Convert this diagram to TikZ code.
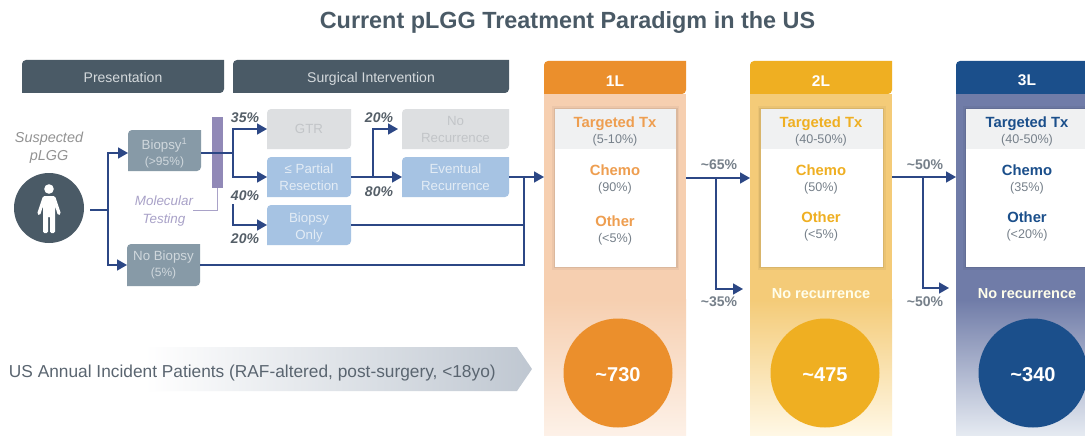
\documentclass[tikz,border=0pt]{standalone}
\usepackage{fontspec}
\setmainfont{Liberation Sans}
\usetikzlibrary{arrows.meta}
\definecolor{slate}{HTML}{4A5A66}
\definecolor{hdrtxt}{HTML}{D5DADD}
\definecolor{bgrey}{HTML}{879AA7}
\definecolor{bgreytxt}{HTML}{D0D8DD}
\definecolor{lgrey}{HTML}{DDDFE1}
\definecolor{lgreytxt}{HTML}{C2C5C8}
\definecolor{lblue}{HTML}{A6C3E3}
\definecolor{lbluetxt}{HTML}{E3ECF5}
\definecolor{purp}{HTML}{9189B7}
\definecolor{purptxt}{HTML}{A9A2C8}
\definecolor{navy}{HTML}{2C4785}
\definecolor{pct}{HTML}{555F68}
\definecolor{subt}{HTML}{76808A}
\definecolor{orA}{HTML}{EB8F2C}
\definecolor{orT}{HTML}{EE9E50}
\definecolor{orB}{HTML}{F6CFB0}
\definecolor{orC}{HTML}{FDF1E8}
\definecolor{yeA}{HTML}{EFAF22}
\definecolor{yeB}{HTML}{F4CB78}
\definecolor{yeC}{HTML}{FFF8E6}
\definecolor{blA}{HTML}{1B4F8B}
\definecolor{blB}{HTML}{707CA8}
\definecolor{blC}{HTML}{E6EBF2}
\definecolor{boxgrey}{HTML}{F0F1F2}
\definecolor{bannerc}{HTML}{BFC7D1}
\definecolor{bannert}{HTML}{5A6570}
\tikzset{
  base/.style={inner sep=0pt,outer sep=0pt,align=center},
  conn/.style={draw=navy,line width=1.7pt},
  arr/.style={conn,-{Triangle[length=10pt,width=11pt]}},
  molec/.style={draw=purptxt,line width=1pt},
  pctlab/.style={base,font=\fontsize{14}{16}\selectfont\bfseries\itshape,text=pct},
  tilde/.style={base,font=\fontsize{14}{16}\selectfont\bfseries,text=subt},
  boxlab/.style={base,font=\fontsize{13.3}{17}\selectfont},
  txhead/.style={base,font=\fontsize{14.8}{16}\selectfont\bfseries},
  txsub/.style={base,font=\fontsize{12.6}{14}\selectfont,text=subt},
  norec/.style={base,font=\fontsize{14.5}{16}\selectfont\bfseries,text=white!92!yellow},
  circlab/.style={base,font=\fontsize{20}{22}\selectfont\bfseries,text=white},
}
\newcommand{\subpct}[1]{{\fontsize{12}{14}\selectfont #1}}
% fill only: x0 y0 x1 y1 colour
\newcommand{\diagfill}[5]{%
  \fill[#5] (#1,#4) [rounded corners=4pt] -- (#1,#2) [sharp corners] -- (#3,#2) [rounded corners=4pt] -- (#3,#4) [sharp corners] -- cycle;
}
% name x0 y0 x1 y1 fill style-text text
\newcommand{\diagbox}[8]{%
  \diagfill{#2}{#3}{#4}{#5}{#6}
  \node[base,minimum width={(#4-#2)*1pt},minimum height={(#5-#3)*1pt},boxlab,text=#7] (#1) at ({(#2+#4)/2},{(#3+#5)/2}) {#8};
}
% column: name x0 x1 colA colB colC label
\newcommand{\column}[7]{%
  \fill[#5] (#2,94) rectangle (#3,300);
  \shade[top color=#5,bottom color=#6] (#2,299.5) rectangle (#3,436);
  \diagbox{#1}{#2}{61}{#3}{94}{#4}{white}{\fontsize{15.5}{17}\selectfont\bfseries\rule{0pt}{17pt}#7}
}
% white card x0 x1
\newcommand{\card}[2]{%
  \fill[black,opacity=.04] (#1-3,106) rectangle (#2+3,269.5);
  \fill[black,opacity=.07] (#1-1.5,107.5) rectangle (#2+1.5,268);
  \fill[white] (#1,109) rectangle (#2,266.5);
  \fill[boxgrey] (#1,109) rectangle (#2,149);
}
\begin{document}
\begin{tikzpicture}[x=1pt,y=-1pt]
\useasboundingbox (0,0) rectangle (1085,436);
\clip (0,0) rectangle (1085,436);
\fill[white] (0,0) rectangle (1085,436);

\node[base,font=\fontsize{23.4}{25}\selectfont\bfseries,text=slate] (title) at (567.5,23) {Current pLGG Treatment Paradigm in the US};

% headers
\diagbox{hpres}{22}{60}{224}{93}{slate}{hdrtxt}{\fontsize{14}{16}\selectfont\rule{0pt}{14.5pt}\vphantom{g}Presentation}
\diagbox{hsurg}{233}{60}{509}{93}{slate}{hdrtxt}{\fontsize{14}{16}\selectfont\rule{0pt}{14.5pt}Surgical Intervention}

% patient
\node[base,font=\fontsize{14.4}{18}\selectfont\itshape,text=gray!85] (susp) at (49,148) {Suspected\\pLGG};
\node[base,circle,fill=slate,minimum size=70pt] (person) at (49,208) {};
\fill[white] (49,189) circle (4.8);
\fill[white,rounded corners=1.5pt] (43,196) -- (55,196) -- (61,214) -- (58,215.5) -- (55,206) -- (55,233) -- (50,233) -- (50,216) -- (48,216) -- (48,233) -- (43,233) -- (43,206) -- (40,215.5) -- (37,214) -- cycle;

% boxes
\diagfill{128}{130}{201}{171}{bgrey}
\node[base,minimum width=73pt,minimum height=36pt,boxlab,text=bgreytxt] (biopsy) at (164.5,153) {Biopsy\textsuperscript{1}\\[-1pt]\subpct{(>95\%)}};
\diagbox{nobiopsy}{127}{244}{200}{286}{bgrey}{bgreytxt}{No Biopsy\\[-1pt]\subpct{(5\%)}}
\node[base,fill=purp,minimum width=11pt,minimum height=71pt] (bar) at (217.5,152) {};
\node[base,font=\fontsize{13.4}{17.5}\selectfont\itshape,text=purptxt] (moltest) at (164,211) {Molecular\\Testing};

\diagbox{gtr}{267}{109}{351}{149}{lgrey}{lgreytxt}{GTR}
\diagbox{partial}{267}{157}{351}{197}{lblue}{lbluetxt}{≤ Partial\\Resection}
\diagbox{bonly}{267}{205}{351}{245}{lblue}{lbluetxt}{\rule{0pt}{14pt}Biopsy\\Only}
\diagbox{norecur}{402}{109}{509}{149}{lgrey}{lgreytxt}{No\\Recurrence}
\diagbox{eventual}{402}{157}{509}{197}{lblue}{lbluetxt}{Eventual\\Recurrence}

% columns
\column{one}{544}{686}{orA}{orB}{orC}{1L}
\column{two}{750}{892}{yeA}{yeB}{yeC}{2L}
\column{three}{956}{1098}{blA}{blB}{blC}{3L}
\card{555}{676}
\card{760.5}{882.5}
\card{966}{1100}

% card texts
\node[txhead,text=orT] (a1) at (615,123.5) {Targeted Tx};
\node[txsub] (a1s) at (615,140) {(5-10\%)};
\node[txhead,text=orT] (a2) at (615,170) {Chemo};
\node[txsub] (a2s) at (615,188) {(90\%)};
\node[txhead,text=orT] (a3) at (615,221) {Other};
\node[txsub] (a3s) at (615,239) {(<5\%)};

\node[txhead,text=yeA] (b1) at (821,123.5) {Targeted Tx};
\node[txsub] (b1s) at (821,140) {(40-50\%)};
\node[txhead,text=yeA] (b2) at (821,170) {Chemo};
\node[txsub] (b2s) at (821,188) {(50\%)};
\node[txhead,text=yeA] (b3) at (821,217) {Other};
\node[txsub] (b3s) at (821,235) {(<5\%)};

\node[txhead,text=blA] (c1) at (1027,123.5) {Targeted Tx};
\node[txsub] (c1s) at (1027,140) {(40-50\%)};
\node[txhead,text=blA] (c2) at (1027,170) {Chemo};
\node[txsub] (c2s) at (1027,188) {(35\%)};
\node[txhead,text=blA] (c3) at (1027,217) {Other};
\node[txsub] (c3s) at (1027,235) {(<20\%)};

\node[norec] (nr2) at (821,294) {No recurrence};
\node[norec] (nr3) at (1027,294) {No recurrence};

% patient circles
\node[base,circle,fill=orA,minimum size=109pt,circlab] (n1) at (618,373) {\rule{0pt}{17pt}\textasciitilde730};
\node[base,circle,fill=yeA,minimum size=109pt,circlab] (n2) at (825,373) {\rule{0pt}{17pt}\textasciitilde475};
\node[base,circle,fill=blA,minimum size=109pt,circlab] (n3) at (1033,373) {\rule{0pt}{17pt}\textasciitilde340};

% banner
\shade[left color=white,right color=bannerc] (145,347) -- (517,347) -- (532,369) -- (517,391) -- (145,391) -- cycle;
\node[base,anchor=west,font=\fontsize{17.3}{19}\selectfont,text=bannert] (banner) at (9,373) {US Annual Incident Patients (RAF-altered, post-surgery, <18yo)};

% connector junctions
\coordinate (pj) at (108,210);
\coordinate (pstart) at (90,210);
\coordinate (sj) at (233,153);
\coordinate (lowj) at (233,204);
\coordinate (rj) at (373,177);
\coordinate (mj) at (524,177);
\coordinate (out1) at (686,178);
\coordinate (j12) at (716,178);
\coordinate (end12) at (743,289);
\coordinate (out2) at (892,177);
\coordinate (j23) at (923,177);
\coordinate (end23) at (949,288);

% connectors
\draw[conn] (pstart) -- (pj);
\draw[arr] (pj) |- (biopsy.west);
\draw[arr] (pj) |- (nobiopsy.west);
\draw[conn] (biopsy.east) -- (sj);
\draw[arr] (sj) |- (gtr.west);
\draw[arr] (sj) |- (partial.west);
\draw[arr] (lowj) |- (bonly.west);
\draw[molec] (moltest.east |- pj) -| (bar.south);
\draw[arr] (partial.east) -- (eventual.west);
\draw[arr,shorten >=4pt] (rj) |- (norecur.west);
\draw[arr] (eventual.east) -- (eventual.east -| one.west);
\draw[conn] (bonly.east) -| (mj);
\draw[conn] (nobiopsy.east) -| (mj);
\draw[arr] (out1) -- (out1 -| two.west);
\draw[arr] (j12) |- (end12);
\draw[arr] (out2) -- (out2 -| three.west);
\draw[arr] (j23) |- (end23);

% percent labels
\node[pctlab] (p35) at (245,118) {35\%};
\node[pctlab] (p40) at (245,196) {40\%};
\node[pctlab] (p20a) at (245,239) {20\%};
\node[pctlab] (p20b) at (379,118) {20\%};
\node[pctlab] (p80) at (379,192) {80\%};
\node[tilde] (t65) at (719,165) {\textasciitilde65\%};
\node[tilde] (t35) at (719,302) {\textasciitilde35\%};
\node[tilde] (t50a) at (925,165) {\textasciitilde50\%};
\node[tilde] (t50b) at (925,302) {\textasciitilde50\%};
\end{tikzpicture}
\end{document}
